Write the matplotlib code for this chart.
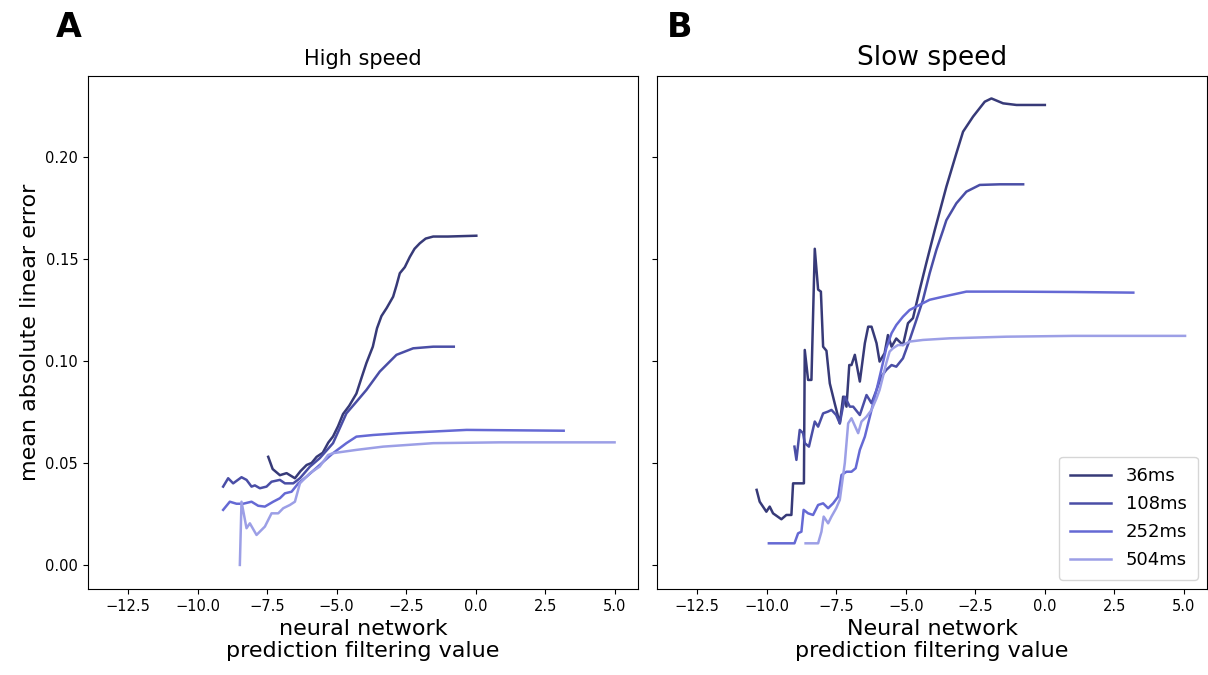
import matplotlib
matplotlib.use("Agg")
import matplotlib.pyplot as plt

labels = ["36ms", "108ms", "252ms", "504ms"]
colors = ["#373a78", "#4a4ea6", "#6569d4", "#9c9fe6"]

# High speed (panel A)
hs_36_x = [-7.46, -7.30, -7.04, -6.80, -6.50, -6.30, -6.08, -5.90, -5.72, -5.50, -5.30, -5.13, -4.95, -4.77, -4.55, -4.29, -4.10, -3.93, -3.70, -3.55, -3.39, -3.20, -2.97, -2.85, -2.73, -2.55, -2.37, -2.20, -2.01, -1.80, -1.53, -1.00, 0.02]
hs_36_y = [0.053, 0.047, 0.044, 0.045, 0.0425, 0.046, 0.049, 0.050, 0.053, 0.055, 0.060, 0.063, 0.068, 0.074, 0.078, 0.084, 0.092, 0.099, 0.107, 0.116, 0.122, 0.126, 0.1315, 0.137, 0.143, 0.146, 0.151, 0.155, 0.1577, 0.160, 0.161, 0.161, 0.1614]

hs_108_x = [-9.08, -8.90, -8.72, -8.42, -8.24, -8.06, -7.94, -7.76, -7.52, -7.34, -7.04, -6.86, -6.56, -6.32, -5.96, -5.61, -5.13, -4.65, -4.29, -3.93, -3.45, -2.85, -2.25, -1.53, -0.79]
hs_108_y = [0.0384, 0.0425, 0.040, 0.043, 0.0417, 0.0384, 0.039, 0.0376, 0.0384, 0.0408, 0.0417, 0.040, 0.040, 0.0425, 0.0482, 0.0523, 0.0597, 0.0743, 0.080, 0.0858, 0.0948, 0.103, 0.1062, 0.107, 0.107]

hs_252_x = [-9.08, -8.84, -8.60, -8.36, -8.06, -7.82, -7.58, -7.28, -7.04, -6.86, -6.62, -6.38, -6.08, -5.61, -5.13, -4.65, -4.29, -3.69, -2.73, -1.53, -0.33, 3.16]
hs_252_y = [0.027, 0.031, 0.030, 0.030, 0.031, 0.029, 0.0286, 0.031, 0.0327, 0.0351, 0.0359, 0.040, 0.0433, 0.049, 0.0548, 0.0597, 0.0629, 0.0637, 0.0646, 0.0654, 0.0662, 0.0658]

hs_504_x = [-8.48, -8.42, -8.24, -8.12, -7.88, -7.58, -7.34, -7.10, -6.92, -6.68, -6.50, -6.32, -5.96, -5.61, -5.31, -5.13, -4.29, -3.33, -1.53, 0.86, 4.99]
hs_504_y = [0.0, 0.031, 0.018, 0.0204, 0.0147, 0.0188, 0.0253, 0.0253, 0.0278, 0.0294, 0.031, 0.040, 0.045, 0.0482, 0.0539, 0.0548, 0.0564, 0.058, 0.0597, 0.0601, 0.0601]

# Slow speed (panel B)
ss_36_x = [-10.36, -10.25, -10.01, -9.89, -9.77, -9.47, -9.29, -9.11, -9.05, -8.66, -8.63, -8.51, -8.39, -8.27, -8.15, -8.05, -7.97, -7.85, -7.73, -7.55, -7.37, -7.25, -7.13, -7.03, -6.95, -6.83, -6.65, -6.47, -6.35, -6.23, -6.05, -5.94, -5.76, -5.64, -5.51, -5.34, -5.10, -4.92, -4.74, -4.50, -4.26, -3.96, -3.54, -3.18, -2.94, -2.58, -2.16, -1.92, -1.50, -1.02, 0.0]
ss_36_y = [0.0368, 0.031, 0.0261, 0.0286, 0.0253, 0.0224, 0.0245, 0.0245, 0.040, 0.040, 0.1054, 0.0907, 0.0907, 0.155, 0.135, 0.134, 0.107, 0.105, 0.089, 0.079, 0.0694, 0.0825, 0.0776, 0.098, 0.098, 0.103, 0.0899, 0.1087, 0.1168, 0.1168, 0.1087, 0.0997, 0.1038, 0.1127, 0.107, 0.111, 0.1078, 0.1185, 0.121, 0.1348, 0.148, 0.164, 0.1854, 0.2018, 0.2124, 0.2198, 0.2271, 0.2287, 0.2263, 0.2255, 0.2255]

ss_108_x = [-9.0, -8.93, -8.81, -8.69, -8.63, -8.48, -8.27, -8.15, -7.97, -7.79, -7.67, -7.50, -7.37, -7.19, -7.01, -6.89, -6.65, -6.41, -6.23, -6.05, -5.88, -5.70, -5.51, -5.34, -5.10, -4.86, -4.62, -4.38, -4.14, -3.90, -3.66, -3.54, -3.18, -2.82, -2.34, -1.62, -0.78]
ss_108_y = [0.058, 0.0515, 0.0662, 0.0646, 0.0597, 0.058, 0.0703, 0.0678, 0.0743, 0.0752, 0.076, 0.0735, 0.0694, 0.0825, 0.0776, 0.0776, 0.0735, 0.0833, 0.0793, 0.0858, 0.0923, 0.0956, 0.098, 0.0972, 0.1013, 0.1103, 0.120, 0.130, 0.143, 0.1544, 0.164, 0.169, 0.1773, 0.183, 0.1863, 0.1866, 0.1866]

ss_252_x = [-9.92, -9.0, -8.87, -8.75, -8.67, -8.51, -8.33, -8.15, -7.97, -7.79, -7.61, -7.43, -7.31, -7.13, -6.95, -6.80, -6.65, -6.47, -6.29, -6.05, -5.88, -5.70, -5.51, -5.34, -5.10, -4.86, -4.50, -4.14, -3.66, -2.82, -1.38, 1.02, 3.18]
ss_252_y = [0.0106, 0.0106, 0.0155, 0.0163, 0.027, 0.0253, 0.0245, 0.0294, 0.0302, 0.0278, 0.0302, 0.0335, 0.0441, 0.0457, 0.0457, 0.0474, 0.0564, 0.0629, 0.0727, 0.0858, 0.0956, 0.1062, 0.1136, 0.1176, 0.1217, 0.125, 0.1275, 0.130, 0.1315, 0.134, 0.134, 0.1338, 0.1335]

ss_504_x = [-8.60, -8.15, -8.03, -7.95, -7.79, -7.67, -7.50, -7.37, -7.19, -7.07, -6.95, -6.71, -6.59, -6.41, -6.23, -6.05, -5.94, -5.82, -5.70, -5.58, -5.46, -5.28, -5.10, -4.86, -4.38, -3.42, -1.38, 1.02, 5.04]
ss_504_y = [0.0106, 0.0106, 0.0163, 0.0237, 0.0204, 0.0237, 0.0278, 0.0319, 0.050, 0.0694, 0.0719, 0.0646, 0.0703, 0.0727, 0.076, 0.0817, 0.0858, 0.0923, 0.0989, 0.1046, 0.1062, 0.1078, 0.1078, 0.1095, 0.1103, 0.1111, 0.1119, 0.1123, 0.1123]

high = [(hs_36_x, hs_36_y), (hs_108_x, hs_108_y), (hs_252_x, hs_252_y), (hs_504_x, hs_504_y)]
slow = [(ss_36_x, ss_36_y), (ss_108_x, ss_108_y), (ss_252_x, ss_252_y), (ss_504_x, ss_504_y)]

fig = plt.figure(figsize=(12.08, 6.75), dpi=100)
ax1 = fig.add_axes([0.0728, 0.1274, 0.4553, 0.76])
ax2 = fig.add_axes([0.5439, 0.1274, 0.4553, 0.76], sharey=ax1)

for (x, y), c, lab in zip(high, colors, labels):
    ax1.plot(x, y, color=c, lw=1.8, label=lab)
for (x, y), c, lab in zip(slow, colors, labels):
    ax2.plot(x, y, color=c, lw=1.8, label=lab)

for ax in (ax1, ax2):
    ax.set_xlim(-13.94, 5.83)
    ax.set_xticks([-12.5, -10.0, -7.5, -5.0, -2.5, 0.0, 2.5, 5.0])
    ax.tick_params(labelsize=10.5)
ax1.set_ylim(-0.0118, 0.2397)
ax1.set_yticks([0.0, 0.05, 0.10, 0.15, 0.20])
plt.setp(ax2.get_yticklabels(), visible=False)

ax1.set_title("High speed", fontsize=15, pad=8)
ax2.set_title("Slow speed", fontsize=19, pad=8)
ax1.set_xlabel("neural network\nprediction filtering value", fontsize=16, linespacing=1.1)
ax2.set_xlabel("Neural network\nprediction filtering value", fontsize=16, linespacing=1.1)
ax1.set_ylabel("mean absolute linear error", fontsize=16)

ax2.legend(loc="lower right", fontsize=13, handlelength=2.3, borderpad=0.6, labelspacing=0.55)

fig.text(0.046, 0.945, "A", fontsize=24, fontweight="bold")
fig.text(0.552, 0.945, "B", fontsize=24, fontweight="bold")

fig.savefig("out.png", dpi=100)
